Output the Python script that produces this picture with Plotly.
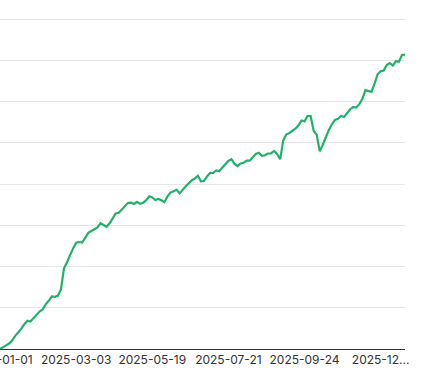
import pandas as pd
import plotly.graph_objects as go

# Tick anchor dates (category axis, equal point counts between labels)
tick_dates = ["2025-01-01", "2025-03-03", "2025-05-19", "2025-07-21", "2025-09-24", "2025-12-02"]
tick_text = ["2025-01-01", "2025-03-03", "2025-05-19", "2025-07-21", "2025-09-24", "2025-12..."]
end_date = "2025-12-31"

# Cumulative value series
values = [
    0.0, 0.36, 0.87, 1.33, 2.06, 3.2, 4.0, 4.92, 6.01, 6.86,
    6.67, 7.52, 8.44, 9.09, 9.58, 10.84, 11.68, 12.75, 12.65, 12.9,
    14.38, 19.49, 21.02, 22.86, 24.39, 25.77, 25.94, 25.82, 27.15, 28.17,
    28.61, 28.97, 29.48, 30.47, 29.99, 29.62, 30.47, 31.76, 32.85, 33.02,
    33.82, 34.81, 35.39, 35.47, 35.15, 35.68, 35.18, 35.47, 36.05, 37.02,
    36.73, 36.12, 36.39, 36.05, 35.59, 37.02, 37.92, 38.23, 38.59, 37.72,
    38.72, 39.44, 40.19, 40.92, 41.33, 42.01, 40.65, 40.73, 41.82, 42.69,
    42.67, 43.30, 43.13, 43.88, 44.73, 45.6, 46.0, 44.87, 44.36, 44.97,
    45.16, 45.67, 45.65, 46.4, 47.27, 47.59, 46.84, 46.96, 47.39, 47.42,
    48.0, 47.27, 46.0, 50.5, 51.98, 52.36, 52.9, 53.41, 54.18, 55.39,
    55.18, 56.53, 56.48, 52.92, 51.93, 47.9, 49.53, 51.39, 53.12, 54.47,
    55.52, 55.78, 56.53, 56.24, 57.21, 58.13, 58.64, 58.57, 59.35, 60.58,
    62.76, 62.57, 62.35, 64.3, 66.59, 67.32, 67.49, 68.85, 69.33, 68.68,
    69.79, 69.65, 71.27, 71.39,
]

# Build the date categories: 25 points between each labelled date
pts_per_seg = 25
dates = []
anchors = tick_dates
for a, b in zip(anchors[:-1], anchors[1:]):
    rng = pd.date_range(a, b, periods=pts_per_seg + 1)[:-1].floor("D")
    dates += [d.strftime("%Y-%m-%d") for d in rng]
tail = len(values) - len(dates)
rng = pd.date_range(anchors[-1], end_date, periods=tail).floor("D")
dates += [d.strftime("%Y-%m-%d") for d in rng]

fig = go.Figure(
    go.Scatter(
        x=dates,
        y=values,
        mode="lines",
        line=dict(color="#23b06c", width=2.2),
        hoverinfo="skip",
    )
)

fig.update_layout(
    width=423,
    height=376,
    margin=dict(l=0, r=18, t=15, b=27),
    paper_bgcolor="white",
    plot_bgcolor="white",
    showlegend=False,
    font=dict(family="Inter", size=12, color="#333"),
)
fig.update_xaxes(
    type="category",
    range=[0, len(values) - 1],
    tickmode="array",
    tickvals=tick_dates,
    ticktext=tick_text,
    showgrid=False,
    showline=True,
    linecolor="#333",
    linewidth=1,
    ticks="",
    tickangle=0,
    automargin=False,
    zeroline=False,
)
fig.update_yaxes(
    range=[0, 80 * 334 / 330],
    tickvals=[10, 20, 30, 40, 50, 60, 70, 80],
    showticklabels=False,
    showgrid=True,
    gridcolor="#e6e6e6",
    gridwidth=1,
    zeroline=False,
    showline=False,
    automargin=False,
)

fig.write_html("out.html")
